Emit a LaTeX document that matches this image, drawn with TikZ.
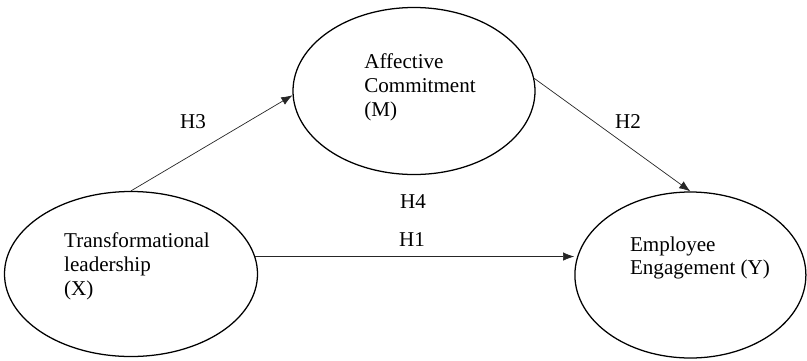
\documentclass[tikz,border=0pt]{standalone}
\usepackage{fontspec}
\setmainfont{Liberation Serif}
\usepackage{tikz}
\usetikzlibrary{shapes.geometric,arrows.meta}

\begin{document}
\begin{tikzpicture}[
		varbox/.style={draw, ellipse, line width=0.9pt, inner sep=0pt},
		vartext/.style={align=left, inner sep=0pt, font=\fontsize{15}{17}\selectfont},
		hlabel/.style={inner sep=0pt, font=\fontsize{15}{17}\selectfont},
		arr/.style={-{Latex[length=8pt,width=6pt]}, line width=0.5pt, draw=black!85}
	]
				\useasboundingbox (0,0) rectangle (20.175,-9);
				\node (x) [varbox, minimum width=6.325cm, minimum height=4.125cm] at (3.275,-6.85) {};
				\node (m) [varbox, minimum width=6.05cm, minimum height=4.175cm] at (10.35,-2.275) {};
				\node (y) [varbox, minimum width=5.775cm, minimum height=4.15cm] at (17.26,-6.875) {};
				\node (xtext) [vartext] at (3.425,-6.65) {Transformational\\leadership\\(X)};
				\node (mtext) [vartext] at (10.5,-2.175) {Affective\\Commitment\\(M)};
				\node (ytext) [vartext] at (17.5,-6.45) {Employee\\Engagement (Y)};
				
				% Arrows
				\draw[arr] (x.north) -- (m.182);
				\draw[arr] (m.6) -- (y.north);
				\draw[arr] (x.8) -- (x.8 -| y.west);
				
				% Hypotheses
				\node (h3) [hlabel] at (4.825,-3.05) {H3};
				\node (h2) [hlabel] at (15.7,-3.05) {H2};
				\node (h4) [hlabel] at (10.325,-5.05) {H4};
				\node (h1) [hlabel] at (10.3,-6.0) {H1};
		\end{tikzpicture}
\end{document}
